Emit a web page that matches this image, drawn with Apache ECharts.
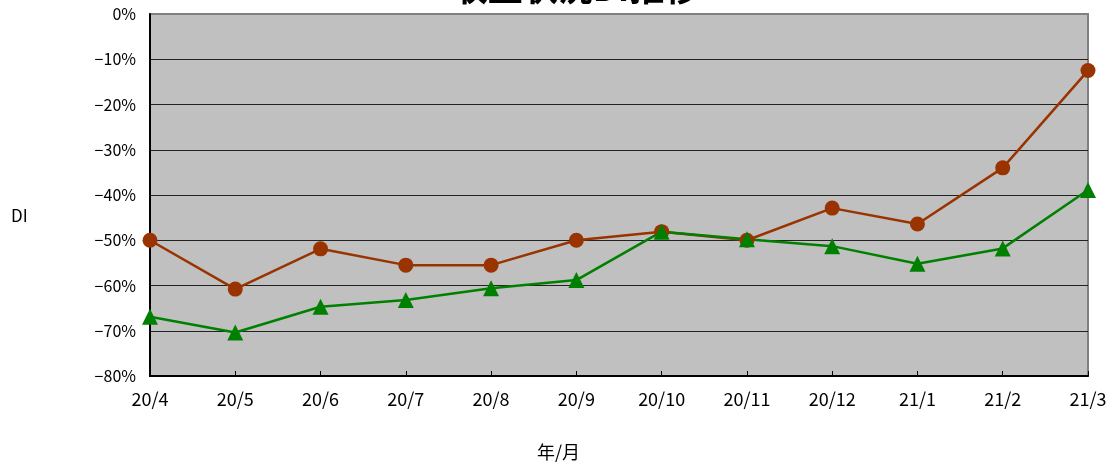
<!DOCTYPE html>
<html>
<head>
<meta charset="utf-8">
<script src="https://cdn.jsdelivr.net/npm/echarts@6/dist/echarts.min.js"></script>
<style>
html,body{margin:0;padding:0;background:#fff;}
#c{width:1115px;height:466px;}
</style>
</head>
<body>
<div id="c"></div>
<script>
const categories = ['20/4','20/5','20/6','20/7','20/8','20/9','20/10','20/11','20/12','21/1','21/2','21/3'];
const seriesA = [-50.0,-60.8,-51.9,-55.5,-55.5,-50.0,-48.1,-50.0,-42.9,-46.4,-34.0,-12.5];
const seriesB = [-66.9,-70.4,-64.7,-63.2,-60.6,-58.8,-48.1,-49.8,-51.3,-55.2,-51.8,-38.9];
const titleText = '収益状況DI推移';
const yName = 'DI';
const xName = '年/月';

const font = '"Noto Sans CJK JP", "DejaVu Sans", sans-serif';
const chart = echarts.init(document.getElementById('c'));
chart.setOption({
  backgroundColor: '#ffffff',
  animation: false,
  title: {
    text: titleText,
    left: 571, top: -35,
    textAlign: 'center',
    textStyle: {fontFamily: font, fontSize: 35, fontWeight: 'bold', color: '#000'}
  },
  grid: {
    left: 150, right: 27, top: 14, bottom: 90,
    show: true, backgroundColor: '#c0c0c0', borderColor: '#808080', borderWidth: 2
  },
  xAxis: {
    type: 'category',
    data: categories,
    boundaryGap: false,
    axisLine: {onZero: false, lineStyle: {color: '#000', width: 2}},
    axisTick: {show: true, inside: true, length: 5, lineStyle: {color: '#000', width: 1}},
    axisLabel: {fontFamily: font, fontSize: 18, color: '#000', margin: 14, interval: 0},
    splitLine: {show: false}
  },
  yAxis: {
    type: 'value',
    min: -80, max: 0, interval: 10,
    axisLine: {show: true, lineStyle: {color: '#000', width: 2}},
    axisTick: {show: false},
    axisLabel: {
      fontFamily: font, fontSize: 16, color: '#000', margin: 14,
      formatter: v => (v < 0 ? '\u2212' + Math.abs(v) : v) + '%'
    },
    splitLine: {show: true, lineStyle: {
      color: ['#222','#222','#222','#222','#222','#222','#222','#222','#808080'], width: 1}}
  },
  graphic: [
    {type: 'text', left: 11, top: 207, style: {text: yName, font: '17px ' + font, fill: '#000'}},
    {type: 'text', left: 537, top: 443, style: {text: xName, font: '18px ' + font, fill: '#000'}}
  ],
  series: [
    {
      type: 'line', data: seriesA,
      symbol: 'circle', symbolSize: 15,
      lineStyle: {color: '#993300', width: 2.5},
      itemStyle: {color: '#993300'}
    },
    {
      type: 'line', data: seriesB,
      symbol: 'triangle', symbolSize: 16,
      lineStyle: {color: '#008000', width: 2.5},
      itemStyle: {color: '#008000'}
    }
  ]
});
</script>
</body>
</html>
